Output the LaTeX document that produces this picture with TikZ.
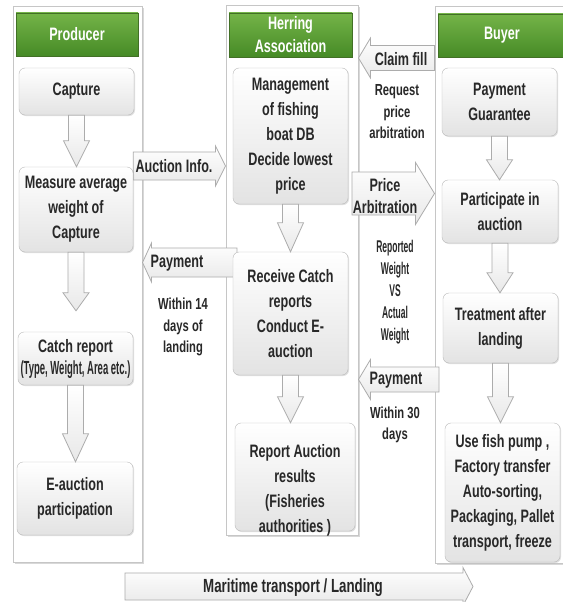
\documentclass[tikz,border=0pt]{standalone}
\usepackage{fontspec}
\setmainfont[FakeStretch=0.7]{Liberation Sans}
\newfontfamily\narrowfont[FakeStretch=0.5]{Liberation Sans}
\usepackage{xcolor}
\usetikzlibrary{calc,shadows}

\pgfdeclarelayer{back}
\pgfdeclarelayer{mid}
\pgfsetlayers{back,mid,main}

\definecolor{hdrtop}{RGB}{116,180,72}
\definecolor{hdrbot}{RGB}{70,138,38}
\definecolor{hdrline}{RGB}{66,112,38}
\definecolor{txt}{RGB}{40,40,40}

\tikzset{
  lane/.style={draw=gray!45, line width=1pt, fill=white, inner sep=0pt,
    drop shadow={opacity=0.3, shadow xshift=1.5pt, shadow yshift=-1.5pt}},
  lanehead/.style={draw=hdrline, top color=hdrtop, bottom color=hdrbot, text=white,
    inner sep=0pt, align=center, font=\bfseries\fontsize{18}{23}\selectfont},
  procbox/.style={draw=gray!55, rounded corners=6pt, top color=white, bottom color=gray!22,
    text=txt, align=center, inner sep=0pt, font=\bfseries\fontsize{18}{25}\selectfont,
    drop shadow={opacity=0.25, shadow xshift=1pt, shadow yshift=-1pt}},
  boxtext/.style={text=txt, align=center, font=\bfseries\fontsize{18}{25}\selectfont},
  blockarrow/.style={draw=gray!65, line width=0.8pt, top color=white, bottom color=gray!18},
  arrowtext/.style={text=txt, align=center, inner sep=0pt, font=\bfseries\fontsize{18}{22}\selectfont},
  remark/.style={text=txt, align=center, inner sep=0pt, font=\bfseries\fontsize{16}{21.5}\selectfont},
}

% block arrow pointing down: from, to, head length
\newcommand{\downblock}[3]{%
  \draw[blockarrow] ($(#1)+(-8,0)$) -- ($(#1 |- #2)+(-8,-#3)$) -- ($(#1 |- #2)+(-13,-#3)$)
    -- (#1 |- #2) -- ($(#1 |- #2)+(13,-#3)$) -- ($(#1 |- #2)+(8,-#3)$) -- ($(#1)+(8,0)$) -- cycle;}

% block arrow sideways: tail, tip, body half, head half, head length (signed)
\newcommand{\sideblock}[5]{%
  \draw[blockarrow] let \p1=(#1), \p2=(#2) in
    (\x1,{\y1+#3pt}) -- ({\x2-(#5pt)},{\y1+#3pt}) -- ({\x2-(#5pt)},{\y1+#4pt}) -- (\x2,\y2)
    -- ({\x2-(#5pt)},{\y1-#4pt}) -- ({\x2-(#5pt)},{\y1-#3pt}) -- (\x1,{\y1-#3pt}) -- cycle;}

\begin{document}
\begin{tikzpicture}[x=1pt, y=-1pt]

\useasboundingbox (0,0) rectangle (562,602);

% Lanes
\begin{pgfonlayer}{back}
\fill[white] (0,0) rectangle (562,602);
\node[lane, minimum width=129, minimum height=555] (prodcol) at (77.5,284.5) {};
\node[lane, minimum width=132, minimum height=529] (herrcol) at (292,270.5) {};
\node[lane, minimum width=133, minimum height=556] (buycol) at (501.5,285) {};
\end{pgfonlayer}

% Lane headers
\node[lanehead, minimum width=122, minimum height=43] (prodhdr) at (77,34.5) {Producer};
\node[lanehead, minimum width=123, minimum height=44] (herrhdr) at (290.5,35) {Herring\\Association};
\node[lanehead, minimum width=128, minimum height=43] (buyhdr) at (502,35.5) {Buyer};

% Producer steps
\node[procbox, minimum width=115, minimum height=47] (cap) at (76.5,91.5) {Capture};
\node[procbox, minimum width=114, minimum height=85] (meas) at (76,209.5) {Measure average\\weight of\\Capture};
\node[procbox, minimum width=115, minimum height=53] (catch) at (75.5,358.5)
  {Catch report\\[-3pt]{\narrowfont\fontsize{19}{20}\selectfont (Type, Weight, Area etc.)}};
\node[procbox, minimum width=116, minimum height=73] (eauc) at (75,498.5) {E-auction\\participation};

% Association steps
\node[procbox, minimum width=115, minimum height=136] (mgmt) at (290.5,136)
  {Management\\of fishing\\boat DB\\Decide lowest\\price};
\node[procbox, minimum width=115, minimum height=123] (recv) at (290.5,313.5)
  {Receive Catch\\reports\\Conduct E-\\auction};
\node[procbox, minimum width=120, minimum height=108] (rep) at (295,477) {};
\node[boxtext] (rep-t) at ($(rep.center)+(0,13)$) {Report Auction\\results\\(Fisheries\\authorities )};

% Buyer steps
\node[procbox, minimum width=115, minimum height=68] (pg) at (499.5,102) {Payment\\Guarantee};
\node[procbox, minimum width=116, minimum height=63] (part) at (500,211.5) {Participate in\\auction};
\node[procbox, minimum width=115, minimum height=70] (treat) at (500.5,328) {Treatment after\\landing};
\node[procbox, minimum width=115, minimum height=139] (fish) at (502.5,492.5)
  {Use fish pump ,\\Factory transfer\\ Auto-sorting,\\Packaging, Pallet\\transport, freeze};

% Flow inside lanes
\downblock{cap.south}{meas.north}{26}
\coordinate (mc-tip) at ($(catch.north)+(0,-21)$);
\downblock{meas.south}{mc-tip}{18}
\downblock{catch.south}{eauc.north}{28}
\downblock{mgmt.south}{recv.north}{29}
\downblock{recv.south}{rep.north}{26}
\downblock{pg.south}{part.north}{20}
\downblock{part.south}{treat.north}{20}
\downblock{treat.south}{fish.north}{26}

% Exchanges between lanes
\coordinate (ai-a) at (meas.east |- 0,166);
\coordinate (ai-b) at (herrcol.west |- 0,166);
\coordinate (pay1-a) at (237,262.5);
\coordinate (pay1-b) at (prodcol.east |- pay1-a);
\coordinate (cl-a) at (buycol.west |- 0,58);
\coordinate (cl-b) at (herrcol.east |- 0,58);
\coordinate (arb-a) at (352,193.5);
\coordinate (arb-b) at (buycol.west |- arb-a);
\coordinate (pay2-a) at (439,379.5);
\coordinate (pay2-b) at (herrcol.east |- pay2-a);
\coordinate (sea-a) at (125,586.5);
\coordinate (sea-b) at (473,586.5);

\begin{pgfonlayer}{mid}
\sideblock{ai-a}{ai-b}{14}{20}{10}
\sideblock{pay1-a}{pay1-b}{14.5}{19.5}{-9}
\sideblock{cl-a}{cl-b}{12.5}{20}{-12}
\sideblock{arb-a}{arb-b}{21.5}{31}{19}
\sideblock{pay2-a}{pay2-b}{12.5}{20}{-12}
\sideblock{sea-a}{sea-b}{13.5}{19}{10}
\end{pgfonlayer}

\node[arrowtext] (ai-t) at (174,166) {Auction Info.};
\node[arrowtext] (pay1-t) at (177,263) {Payment};
\node[arrowtext] (cl-t) at (401,59) {Claim fill};
\node[arrowtext] (arb-t) at (385,196) {Price\\Arbitration};
\node[arrowtext] (pay2-t) at (396,380) {Payment};
\node[arrowtext, font=\bfseries\fontsize{19}{22}\selectfont] (sea-t) at (293,588) {Maritime transport / Landing};

% Notes
\node[remark] (req) at (397,112) {Request\\price\\arbitration};
\node[remark] (w14) at (183,327) {Within 14\\days of\\landing};
\node[remark] (w30) at (395,425) {Within 30\\days};
\node[remark, font=\narrowfont\bfseries\fontsize{17}{22}\selectfont] (wvs) at (395,292.5)
  {Reported\\Weight\\VS\\Actual\\Weight};

\end{tikzpicture}
\end{document}
